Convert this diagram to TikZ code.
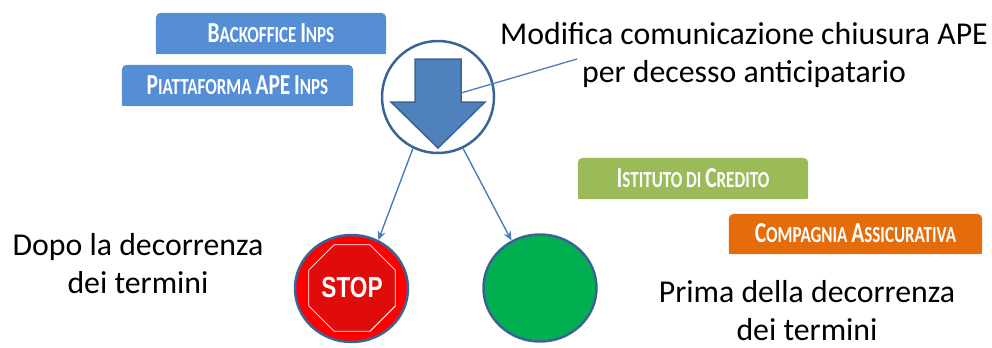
\documentclass[tikz,border=0pt]{standalone}
\usepackage{graphicx}
\usepackage{fontspec}
\setmainfont{Carlito}
\newfontfamily\stopfont{Liberation Sans}
\usetikzlibrary{shapes.geometric,arrows.meta,backgrounds}
\definecolor{boxblue}{HTML}{558ED5}
\definecolor{boxgreen}{HTML}{9BBB59}
\definecolor{boxorange}{HTML}{E46C0A}
\definecolor{ringblue}{HTML}{3B6496}
\definecolor{arrowblue}{HTML}{4F81BD}
\definecolor{lineblue}{HTML}{4A7EBB}
\definecolor{stopred}{HTML}{E00C0C}
\definecolor{gogreen}{HTML}{00B050}
\newcommand\scap[2]{{\fontsize{29bp}{30bp}\selectfont\bfseries #1}{\fontsize{23bp}{30bp}\selectfont\bfseries #2}}
\newcommand\lbltext[1]{\raisebox{1.5bp}{\scalebox{0.74}[1]{\fontsize{23bp}{30bp}\selectfont\bfseries #1}}}
\tikzset{
  lbl/.style={text=white, inner sep=0pt, minimum width=230bp, minimum height=41bp},
  maintext/.style={font=\fontsize{31.8bp}{38bp}\selectfont, align=center, inner sep=0pt},
  conn/.style={lineblue, line width=1.4bp, -{Stealth[length=9bp, width=8bp]}},
  bigdisc/.style={ellipse, draw=ringblue, line width=2.5bp, minimum width=113bp, minimum height=107bp, inner sep=0pt}
}
\begin{document}
\begin{tikzpicture}[x=1bp, y=-1bp]
\useasboundingbox (0,0) rectangle (992,347);
% label boxes
\node[lbl] (bo) at (271,33.5) {\lbltext{\scap{B}{ACKOFFICE} \scap{I}{NPS}}};
\node[lbl, minimum width=231bp] (pa) at (237.5,85.5) {\lbltext{\scap{P}{IATTAFORMA} \scap{APE}{} \scap{I}{NPS}}};
\node[lbl] (ic) at (693,178.5) {\lbltext{\scap{I}{STITUTO} \scap{}{DI} \scap{C}{REDITO}}};
\node[lbl, minimum width=253bp, minimum height=40bp] (ca) at (855.5,234) {\lbltext{\scap{C}{OMPAGNIA} \scap{A}{SSICURATIVA}}};
\begin{scope}[on background layer]
\foreach \n/\c in {bo/boxblue, pa/boxblue, ic/boxgreen, ca/boxorange} {
  \fill[\c, rounded corners=5bp] (\n.north west) rectangle (\n.south east);
  \fill[\c] (\n.west) rectangle (\n.south east);
}
\end{scope}
% top ring with arrow
\node[circle, draw=ringblue, line width=2.5bp, fill=white, minimum size=112bp, inner sep=0pt] (ring) at (438,97) {};
\draw[fill=arrowblue, draw=ringblue, line width=1.5bp, line join=miter]
  (415,59) -- (461,59) -- (461,102) -- (485,102) -- (438,148) -- (391,102) -- (415,102) -- cycle;
\coordinate (arrowR) at (461,93);
\coordinate (lead) at (577,59);
\draw[lineblue, line width=1.3bp] (arrowR) -- (lead);
% texts
\node[maintext, anchor=base] (title) at (744,82) {Modifica comunicazione chiusura APE\\per decesso anticipatario};
\node[maintext, anchor=base] (after) at (138,293) {Dopo la decorrenza\\dei termini};
\node[maintext, anchor=base] (before) at (807,340.5) {Prima della decorrenza\\dei termini};
% discs
\node[bigdisc, fill=red] (stopc) at (351.5,288.5) {};
\node[bigdisc, fill=gogreen] (goc) at (540,288) {};
\node[regular polygon, regular polygon sides=8, minimum size=80bp, fill=stopred, draw=white, line width=0.8bp, inner sep=0pt, text=white] (oct) at (352,288)
  {\stopfont\bfseries\fontsize{29bp}{30bp}\selectfont\scalebox{0.78}[1]{STOP}};
% connectors
\draw[conn] (ring.244) -- (stopc.61);
\draw[conn] (ring.296) -- (goc.121);
\end{tikzpicture}
\end{document}
